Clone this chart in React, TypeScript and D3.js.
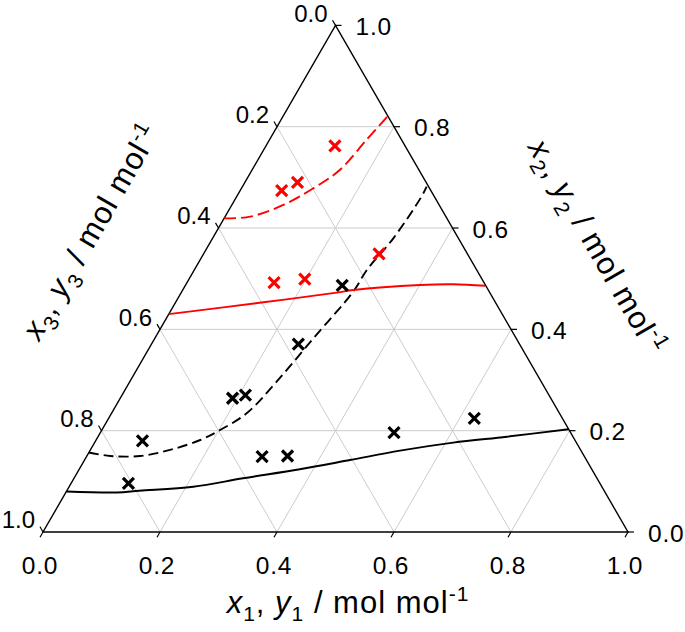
import React from 'react';
import * as d3 from 'd3';

// ternary compositions stored as [x1, x2]; x3 = 1 - x1 - x2
const tickValues = [0, 0.2, 0.4, 0.6, 0.8, 1.0];
const gridValues = [0.2, 0.4, 0.6, 0.8];

const redMarkers: [number, number][] = [
  [0.118, 0.762], [0.071, 0.674], [0.09, 0.69],
  [0.3, 0.549], [0.149, 0.492], [0.198, 0.499],
];

const blackMarkers: [number, number][] = [
  [0.268, 0.487], [0.251, 0.371], [0.192, 0.264], [0.211, 0.27], [0.08, 0.18],
  [0.098, 0.096], [0.3, 0.149], [0.343, 0.15], [0.502, 0.196], [0.625, 0.2245],
];

const redDashed: [number, number][] = [
  [0, 0.619], [0.043, 0.6224], [0.088, 0.6455], [0.123, 0.6784],
  [0.15, 0.7146], [0.166, 0.7738], [0.179, 0.821],
];

const redSolid: [number, number][] = [
  [0, 0.43], [0.15, 0.4534], [0.266, 0.4724], [0.292, 0.4777],
  [0.401, 0.4876], [0.457, 0.489], [0.513, 0.486],
];

const blackDashed: [number, number][] = [
  [0, 0.157], [0.04, 0.15], [0.091, 0.15], [0.136, 0.162], [0.178, 0.1816],
  [0.202, 0.2013], [0.231, 0.2343], [0.251, 0.2967], [0.271, 0.3824],
  [0.293, 0.4743], [0.295, 0.5172], [0.309, 0.5797], [0.316, 0.6619], [0.315, 0.6816],
];

const blackSolid: [number, number][] = [
  [0, 0.08], [0.087, 0.078], [0.124, 0.0815], [0.212, 0.0894], [0.289, 0.106],
  [0.377, 0.1238], [0.454, 0.1421], [0.53, 0.1605], [0.613, 0.1763],
  [0.699, 0.1881], [0.797, 0.2027],
];

const W = 685;
const H = 632;
const x0 = 43;
const y0 = 532;
const side = 585;
const SQ3 = Math.sqrt(3) / 2;

const sx = d3.scaleLinear().domain([0, 1]).range([x0, x0 + side]);
const sy = d3.scaleLinear().domain([0, 1]).range([y0, y0 - side * SQ3]);

const proj = (x1: number, x2: number): [number, number] => [sx(x1 + x2 / 2), sy(x2)];

const line = d3.line<[number, number]>()
  .x(d => proj(d[0], d[1])[0])
  .y(d => proj(d[0], d[1])[1])
  .curve(d3.curveCatmullRom.alpha(0.5));

const font = 'Liberation Sans, Arial, sans-serif';
const tickLen = 6;
const cross = 'M-5.5,-5.5L5.5,5.5M-5.5,5.5L5.5,-5.5';

const Title = ({ idx, x, y, rotate }: { idx: string; x: number; y: number; rotate: number }) => (
  <text
    transform={`translate(${x},${y}) rotate(${rotate})`}
    textAnchor="middle"
    fontFamily={font}
    fontSize={31}
    letterSpacing={1}
    fill="#000"
  >
    <tspan fontStyle="italic">x</tspan>
    <tspan fontSize={21} dy={8}>{idx}</tspan>
    <tspan dy={-8}>, </tspan>
    <tspan fontStyle="italic">y</tspan>
    <tspan fontSize={21} dy={8}>{idx}</tspan>
    <tspan dy={-8}> / mol mol</tspan>
    <tspan fontSize={21} dy={-12}>-1</tspan>
  </text>
);

export default function App() {
  const top = proj(0, 1);
  const left = proj(0, 0);
  const right = proj(1, 0);

  return (
    <svg width={W} height={H} style={{ position: 'absolute', left: 0, top: 0, background: '#fff' }}>
      {/* grid */}
      <g stroke="#cccccc" strokeWidth={1} fill="none">
        {gridValues.map(v => {
          const a1 = proj(v, 0), b1 = proj(v, 1 - v); // const x1
          const a2 = proj(0, v), b2 = proj(1 - v, v); // const x2
          const a3 = proj(0, 1 - v), b3 = proj(1 - v, 0); // const x3
          return (
            <g key={v}>
              <line x1={a1[0]} y1={a1[1]} x2={b1[0]} y2={b1[1]} />
              <line x1={a2[0]} y1={a2[1]} x2={b2[0]} y2={b2[1]} />
              <line x1={a3[0]} y1={a3[1]} x2={b3[0]} y2={b3[1]} />
            </g>
          );
        })}
      </g>

      {/* frame */}
      <path
        d={`M${left[0]},${left[1]}L${right[0]},${right[1]}L${top[0]},${top[1]}Z`}
        fill="none"
        stroke="#000"
        strokeWidth={1.4}
      />

      {/* ticks + labels */}
      <g stroke="#000" strokeWidth={1.2}>
        {tickValues.map(v => {
          const b = proj(v, 0);
          const r = proj(1 - v, v);
          const l = proj(0, 1 - v);
          return (
            <g key={v}>
              <line x1={b[0]} y1={b[1]} x2={b[0] - tickLen * 0.5} y2={b[1] + tickLen * SQ3} />
              <line x1={r[0]} y1={r[1]} x2={r[0] + tickLen} y2={r[1]} />
              <line x1={l[0]} y1={l[1]} x2={l[0] - tickLen * 0.5} y2={l[1] - tickLen * SQ3} />
            </g>
          );
        })}
      </g>
      <g fontFamily={font} fill="#000">
        {tickValues.map(v => {
          const b = proj(v, 0);
          const r = proj(1 - v, v);
          const l = proj(0, 1 - v);
          return (
            <g key={v}>
              <text x={b[0] - 3} y={b[1] + 33} textAnchor="middle" dy="0.35em" fontSize={24.5} letterSpacing={0.8}>{v.toFixed(1)}</text>
              <text x={r[0] + 20} y={r[1] + 1} textAnchor="start" dy="0.35em" fontSize={24.5} letterSpacing={0.8}>{v.toFixed(1)}</text>
              <text x={l[0] - 8} y={l[1] - 12} textAnchor="end" dy="0.35em" fontSize={24}>{v.toFixed(1)}</text>
            </g>
          );
        })}
      </g>

      {/* model curves */}
      <path d={line(blackSolid) || ''} fill="none" stroke="#000" strokeWidth={1.9} />
      <path d={line(blackDashed) || ''} fill="none" stroke="#000" strokeWidth={1.9} strokeDasharray="10,5" />
      <path d={line(redSolid) || ''} fill="none" stroke="#ff0000" strokeWidth={1.9} />
      <path d={line(redDashed) || ''} fill="none" stroke="#ff0000" strokeWidth={1.9} strokeDasharray="12,5" />

      {/* experimental points */}
      {blackMarkers.map((d, i) => {
        const [px, py] = proj(d[0], d[1]);
        return <path key={'b' + i} transform={`translate(${px},${py})`} d={cross} stroke="#000" strokeWidth={3.2} />;
      })}
      {redMarkers.map((d, i) => {
        const [px, py] = proj(d[0], d[1]);
        return <path key={'r' + i} transform={`translate(${px},${py})`} d={cross} stroke="#ff0000" strokeWidth={3.2} />;
      })}

      {/* axis titles */}
      <Title idx="1" x={348} y={613} rotate={0} />
      <Title idx="3" x={100} y={237} rotate={-60} />
      <Title idx="2" x={588} y={252} rotate={60} />
    </svg>
  );
}
